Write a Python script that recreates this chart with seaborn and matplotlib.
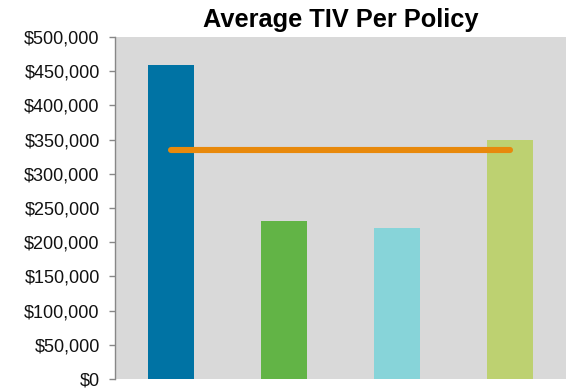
import matplotlib
matplotlib.use("Agg")
import matplotlib.pyplot as plt
import seaborn as sns
import numpy as np
import pandas as pd
from matplotlib.ticker import FuncFormatter, MultipleLocator

# Average total insured value per policy, by segment
segments = ["Segment 1", "Segment 2", "Segment 3", "Segment 4"]
avg_tiv = [459000, 231000, 221000, 350000]
portfolio_avg = 335000
bar_colors = ["#0073A4", "#62B446", "#87D4D9", "#BDD171"]
line_color = "#E8890C"

sns.set_theme(style="white")
plt.rcParams["font.family"] = ["Liberation Sans", "DejaVu Sans"]

df = pd.DataFrame({"segment": segments, "tiv": avg_tiv})

fig = plt.figure(figsize=(5.68, 3.89), dpi=100)
ax = fig.add_axes([115 / 568, 10 / 389, 451 / 568, 342 / 389])
ax.set_facecolor("#D9D9D9")

sns.barplot(data=df, x="segment", y="tiv", hue="segment", palette=bar_colors,
            width=0.41, saturation=1, legend=False, linewidth=0,
            edgecolor="none", ax=ax)

# portfolio-wide average across all segments
xpos = np.arange(len(segments))
ax.plot(xpos, [portfolio_avg] * len(segments), color=line_color, lw=4.4,
        solid_capstyle="round", zorder=5)

ax.set_xlim(-0.5, len(segments) - 0.5)
ax.set_ylim(0, 500000)
ax.yaxis.set_major_locator(MultipleLocator(50000))
ax.yaxis.set_major_formatter(FuncFormatter(lambda v, _: f"${v:,.0f}"))
ax.tick_params(axis="y", left=True, length=4, width=1, color="#878787",
               pad=7, labelsize=13, labelcolor="#111111")
ax.tick_params(axis="x", bottom=False, labelbottom=False)
ax.set_xlabel("")
ax.set_ylabel("")

for side in ["top", "right", "bottom"]:
    ax.spines[side].set_visible(False)
ax.spines["left"].set_color("#878787")
ax.spines["left"].set_linewidth(1)

ax.set_title("Average TIV Per Policy", fontsize=18.3, fontweight="bold",
             color="#000000", pad=7)

fig.savefig("out.png", dpi=100)
